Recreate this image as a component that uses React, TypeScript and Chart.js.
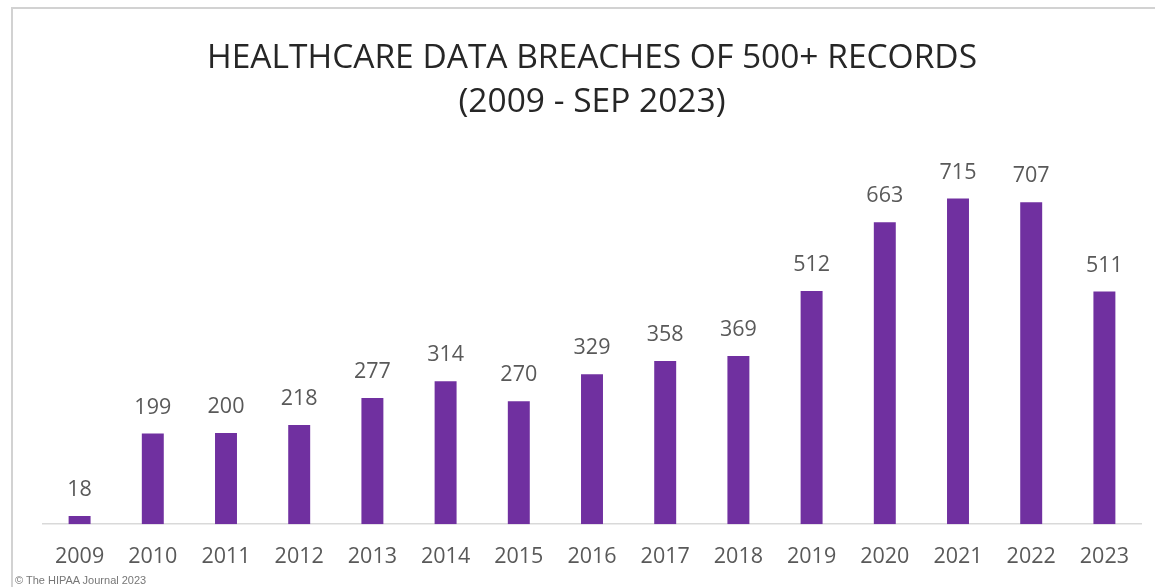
import React, { useEffect, useRef } from "react";
import { Chart, registerables } from "chart.js";

Chart.register(...registerables);

const years = ["2009", "2010", "2011", "2012", "2013", "2014", "2015", "2016", "2017", "2018", "2019", "2020", "2021", "2022", "2023"];
const breaches = [18, 199, 200, 218, 277, 314, 270, 329, 358, 369, 512, 663, 715, 707, 511];
const titleLines = ["HEALTHCARE DATA BREACHES OF 500+ RECORDS", "(2009 - SEP 2023)"];
const credit = "© The HIPAA Journal 2023";

const FONT = "'Open Sans', 'Noto Sans', sans-serif";
const BAR_COLOR = "#7030A0";
const TEXT_GRAY = "#595959";

const valueLabels = {
  id: "valueLabels",
  afterDatasetsDraw(chart: any) {
    const ctx = chart.ctx;
    const meta = chart.getDatasetMeta(0);
    const data = chart.data.datasets[0].data as number[];
    ctx.save();
    ctx.font = `21.5px ${FONT}`;
    ctx.fillStyle = TEXT_GRAY;
    ctx.textAlign = "center";
    ctx.textBaseline = "middle";
    meta.data.forEach((bar: any, i: number) => {
      ctx.fillText(String(data[i]), bar.x, bar.y - 26);
    });
    ctx.restore();
  },
};

export default function App() {
  const canvasRef = useRef<HTMLCanvasElement | null>(null);

  useEffect(() => {
    if (!canvasRef.current) return;
    const chart = new Chart(canvasRef.current, {
      type: "bar",
      data: {
        labels: years,
        datasets: [
          {
            data: breaches,
            backgroundColor: BAR_COLOR,
            barPercentage: 0.3,
            categoryPercentage: 1,
          },
        ],
      },
      options: {
        animation: false,
        responsive: true,
        maintainAspectRatio: false,
        layout: { padding: { left: 43, right: 14, top: 12, bottom: -3 } },
        plugins: {
          legend: { display: false },
          tooltip: { enabled: false },
          title: {
            display: true,
            text: titleLines,
            color: "#262626",
            font: { family: FONT, size: 33.5, weight: "normal", lineHeight: 1.31 },
            padding: { top: 25, bottom: 35 },
          },
        },
        scales: {
          x: {
            grid: { display: false, drawTicks: false },
            border: { display: true, color: "#d9d9d9", width: 1.5 },
            ticks: { color: TEXT_GRAY, font: { family: FONT, size: 21.5 }, padding: 20, maxRotation: 0 },
          },
          y: {
            display: false,
            min: 0,
            max: 800,
          },
        },
      },
      plugins: [valueLabels],
    });
    return () => chart.destroy();
  }, []);

  return (
    <div style={{ position: "absolute", left: 0, top: 0, width: 1155, height: 587, background: "#fff", overflow: "hidden" }}>
      <div
        style={{
          position: "absolute",
          left: 11,
          top: 7,
          right: 0,
          bottom: 0,
          borderTop: "2px solid #d2d2d2",
          borderLeft: "2px solid #d2d2d2",
        }}
      />
      <canvas ref={canvasRef} style={{ position: "absolute", left: 0, top: 0, width: 1155, height: 587 }} />
      <div
        style={{
          position: "absolute",
          left: 15,
          top: 574,
          fontFamily: "'Liberation Sans', Arial, sans-serif",
          fontSize: 11,
          lineHeight: "13px",
          color: "#777",
          whiteSpace: "nowrap",
        }}
      >
        {credit}
      </div>
    </div>
  );
}
